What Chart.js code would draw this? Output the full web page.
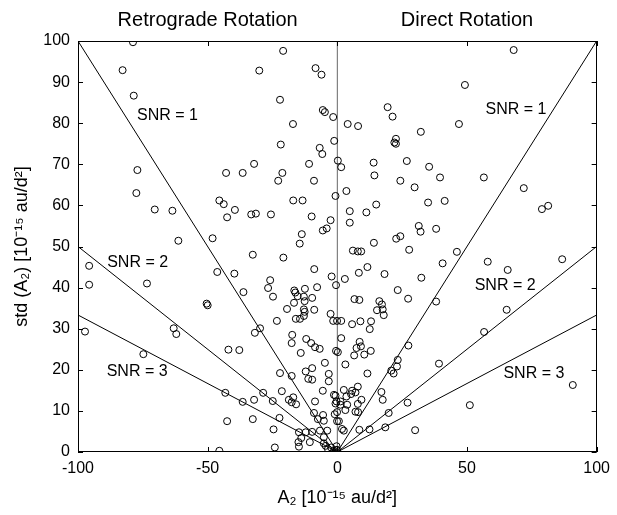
<!DOCTYPE html>
<html lang="en">
<head>
<meta charset="UTF-8">
<title>SNR of A2</title>
<script src="https://cdn.jsdelivr.net/npm/chart.js@4.4.1/dist/chart.umd.min.js"></script>
<style>
    html, body {margin: 0; padding: 0; background: #fff}
    canvas {display: block}
</style>
</head>
<body>
<canvas id="chart" width="617" height="515"></canvas>
<script>

// A2 values and their std (units of 1e-15 au/d^2)
const a2 = [
    -78.8, -82.8, -78.5, -77.1,
    -20.9, -30.1, -8.4, -6.1, -22.1, -5.6, -4.8, -1.6, -17.1, -21.8, -6.8, -5.8, -1.2, -32.1, -10.9, 0.2, -42.9, -36.5, -21.2, -22.8, -9.0,
    49.2, 19.4, 21.3, 4.0, 8.0, 46.9, 32.2, 22.6, 22.0, 22.6, 1.5, 14.0, 26.8, 35.4, 14.3, 39.6, 24.3,
    68.0, 56.5,
    -77.5, -70.4, -63.6, -61.3, -95.7, -95.7, -73.4, -50.4, -50.0,
    -45.5, -43.8, -39.5, -42.5, -33.2, -31.4, -25.6, -17.0, -13.4, -0.7, -9.9, -2.6, -5.6, -4.1, -13.7, -14.5, -48.1, -32.6, -20.8, -8.9,
    -46.3, -39.7, -2.2, -0.5, -25.9, -26.7, -36.2, -24.8, -16.6, -16.2, -12.5, -7.8, -15.3, -12.9, -12.6, -9.7, -16.7, -19.4, -12.9, -12.6, -8.9, -2.6,
    29.8, 3.5, 35.0, 41.4, 15.0, 4.8, 11.2, 4.8, 31.4, 32.1, 38.1, 22.7, 24.3, 14.1, 27.7, 6.0, 7.9, 9.2, 46.1, 40.6, 11.6, 8.3, 18.2, 32.4,
    2.9, 23.3, 27.3, 6.6, 8.5, 16.2, 17.2, 15.3, 17.5, 17.9, 38.1,
    71.9, 78.9, 81.3, 58.0, 65.7, 86.7, 65.3,
    -97.3, -63.1, -62.1, -74.8,
    -23.3, -16.0, -14.4, -12.9, -1.6, -29.8, -31.8, -17.4, -17.6, -42.0, -37.8, -12.0, -10.1, -8.6, -6.8, -14.1, -0.5, -4.8, -9.7, -12.2,
    -11.2, -9.7, -3.3, -3.3, -22.1, -17.6, -21.4, -43.2, -28.6, -36.5, -32.1, -24.9, -18.7, -17.0, -15.9, -17.6, -5.6, -1.3, -0.3, -8.6,
    -42.5, -32.6, -22.3, -24.6, -24.1, -45.5, -9.0, -7.5, -5.5, -5.2, -1.0, -0.1, -14.8, -12.2, -9.7, -6.7, -3.9, -13.9, -15.0, -14.8,
    -10.6, -5.2, -5.2, -4.5, -3.6, -2.4, -1.3, -0.3,
    -0.1, 1.5, 5.7, 8.9, 13.0, 12.5, 1.5, 0.2, 8.6, 7.4, 9.1, 12.9, 6.5, 10.4, 3.1, 11.6, 27.4, 23.3, 23.0, 20.8, 21.7, 39.2,
    17.0, 17.5, 27.1, 19.8, 18.5, 12.4, 30.0, 8.5, 1.8, 2.5, 0.6, 7.9, 2.5, 5.7, 7.0, 3.5, 5.3, -0.7, -0.7, 1.2, 1.2, 3.8,
    9.3, 7.9, 3.1, 7.0, 8.0, -0.1, -0.3, -0.1, 51.1,
    56.6, 90.8
];
const stdA2 = [
    99.7, 92.9, 86.7, 68.6,
    97.6, 92.8, 93.4, 91.8, 85.7, 83.2, 82.7, 81.5, 79.8, 74.8, 74.0, 72.5, 75.7, 70.1, 70.1, 70.9, 67.9, 67.9, 67.9, 66.0, 66.0,
    89.3, 83.9, 81.6, 79.8, 79.3, 79.8, 77.9, 76.2, 75.3, 75.0, 69.3, 70.4, 70.8, 69.4, 67.3, 66.8, 66.0,
    97.8, 66.8,
    63.0, 59.0, 58.7, 51.4, 45.3, 40.7, 41.0, 36.1, 35.7,
    61.2, 60.3, 58.9, 57.1, 57.8, 58.0, 57.8, 61.2, 61.2, 62.3, 57.3, 56.4, 53.9, 54.4, 53.0, 50.7, 52.0, 48.0, 47.3, 44.5,
    43.8, 43.4, 42.7, 40.6, 41.8, 39.9, 38.9, 37.8, 39.3, 38.8, 39.7, 40.1, 37.9, 37.8, 36.7, 37.5, 36.3, 34.8, 34.7, 34.1, 34.6, 33.6,
    64.4, 63.5, 60.7, 61.1, 60.2, 58.6, 58.3, 55.8, 55.0, 53.6, 54.3, 51.9, 52.5, 50.9, 49.2, 49.0, 48.8, 48.8, 48.7, 45.9, 45.0, 43.6, 43.3, 42.4,
    42.1, 39.4, 37.3, 37.2, 37.0, 36.7, 35.9, 34.5, 34.7, 33.3, 36.6,
    64.2, 59.1, 59.9, 46.3, 44.3, 46.9, 34.6,
    29.3, 30.1, 28.7, 23.8,
    31.9, 32.4, 32.4, 33.1, 31.9, 30.1, 29.0, 28.5, 26.5, 24.9, 24.8, 27.5, 26.5, 25.5, 25.1, 24.1, 24.6, 21.7, 20.4, 19.6,
    17.8, 17.6, 19.0, 17.2, 19.2, 18.5, 14.8, 14.4, 14.4, 12.2, 12.7, 12.4, 12.7, 13.3, 11.6, 12.1, 14.9, 13.9, 12.3, 12.3,
    7.5, 8.0, 8.3, 5.5, 1.1, 0.3, 9.5, 8.0, 9.0, 7.6, 9.2, 7.5, 4.8, 4.8, 4.9, 5.2, 5.2, 3.4, 2.4, 1.3,
    2.4, 3.6, 2.1, 1.5, 0.7, 1.1, 0.3, 0.5,
    31.9, 31.9, 31.1, 31.8, 31.8, 29.9, 27.7, 24.3, 26.8, 25.3, 25.7, 24.6, 23.5, 23.7, 21.3, 19.1, 25.9, 22.4, 20.8, 19.8, 19.1, 21.5,
    14.6, 12.7, 12.0, 9.5, 6.0, 5.5, 5.3, 5.4, 5.6, 5.2, 7.5, 15.9, 15.1, 14.9, 14.5, 13.5, 14.1, 13.7, 11.8, 12.3, 11.5, 11.5,
    12.7, 11.7, 10.2, 9.8, 9.7, 9.7, 1.4, 0.5, 11.4,
    29.2, 16.3
];

const snrLevels = [1, 2, 3];
const xTicks = [-100, -50, 0, 50, 100];
const yTicks = [0, 10, 20, 30, 40, 50, 60, 70, 80, 90, 100];
const xRange = [-100, 100];
const yRange = [0, 100];

// where the SNR = n labels sit, in data units
const snrLabels = [
    {text: 'SNR = 1', x: -65.5, y: 81.8}, {text: 'SNR = 1', x: 68.9, y: 83.2},
    {text: 'SNR = 2', x: -77.0, y: 46.2}, {text: 'SNR = 2', x: 64.7, y: 40.4},
    {text: 'SNR = 3', x: -77.2, y: 19.6}, {text: 'SNR = 3', x: 75.8, y: 19.0}
];
const sideTitles = [{text: 'Retrograde Rotation', x: -50}, {text: 'Direct Rotation', x: 50}];

const FONT = "'Liberation Sans', Arial, Helvetica, sans-serif";

const points = a2.map((v, i) => ({x: v, y: stdA2[i]}));

// SNR = |A2| / std  ->  std = |A2| / snr
const snrSets = snrLevels.map(s => ({
    type: 'line',
    data: [{x: xRange[0], y: Math.abs(xRange[0]) / s}, {x: 0, y: 0}, {x: xRange[1], y: xRange[1] / s}],
    borderColor: '#000',
    borderWidth: 1,
    pointRadius: 0,
    fill: false,
    tension: 0,
    order: 2
}));

const matlabLook = {
    id: 'matlabLook',
    afterDraw(chart) {
        const {ctx, chartArea: a, scales: {x, y}} = chart;
        ctx.save();
        ctx.strokeStyle = '#000';
        ctx.lineWidth = 1;
        ctx.strokeRect(Math.round(a.left) + 0.5, Math.round(a.top) + 0.5,
            Math.round(a.right - a.left) - 1, Math.round(a.bottom - a.top) - 1);
        const tl = 5;
        ctx.beginPath();
        xTicks.forEach(t => {
            const px = Math.round(x.getPixelForValue(t)) + 0.5;
            ctx.moveTo(px, a.bottom); ctx.lineTo(px, a.bottom - tl);
            ctx.moveTo(px, a.top); ctx.lineTo(px, a.top + tl);
        });
        yTicks.forEach(t => {
            const py = Math.round(y.getPixelForValue(t)) + 0.5;
            ctx.moveTo(a.left, py); ctx.lineTo(a.left + tl, py);
            ctx.moveTo(a.right, py); ctx.lineTo(a.right - tl, py);
        });
        ctx.stroke();

        ctx.fillStyle = '#000';
        ctx.textAlign = 'center';
        ctx.textBaseline = 'middle';
        ctx.font = '16px ' + FONT;
        snrLabels.forEach(l => ctx.fillText(l.text, x.getPixelForValue(l.x), y.getPixelForValue(l.y)));
        ctx.font = '20px ' + FONT;
        sideTitles.forEach(l => ctx.fillText(l.text, x.getPixelForValue(l.x), a.top - 21));
        ctx.restore();
    }
};

new Chart('chart', {
    type: 'scatter',
    data: {
        datasets: [
            {
                data: points,
                borderColor: '#000',
                backgroundColor: 'rgba(0,0,0,0)',
                borderWidth: 1,
                pointRadius: 3.5,
                pointStyle: 'circle',
                order: 1
            },
            ...snrSets,
            {
                type: 'line',
                data: [{x: 0, y: yRange[0]}, {x: 0, y: yRange[1]}],
                borderColor: '#666',
                borderWidth: 1,
                pointRadius: 0,
                order: 3
            }
        ]
    },
    options: {
        responsive: false,
        animation: false,
        devicePixelRatio: 1,
        layout: {padding: {top: 41, right: 18, left: 0, bottom: 0}},
        plugins: {legend: {display: false}, tooltip: {enabled: false}},
        scales: {
            x: {
                type: 'linear',
                min: xRange[0],
                max: xRange[1],
                afterBuildTicks: s => { s.ticks = xTicks.map(v => ({value: v})); },
                afterFit: s => { s.height = 63; },
                grid: {display: false, drawTicks: false},
                border: {display: false},
                ticks: {color: '#000', font: {family: FONT, size: 16}, padding: 7, maxRotation: 0},
                title: {
                    display: true,
                    text: 'A\u2082 [10\u207B\u00B9\u2075 au/d\u00B2]',
                    color: '#000',
                    font: {family: FONT, size: 18},
                    padding: {top: 0, bottom: 6}
                }
            },
            y: {
                type: 'linear',
                min: yRange[0],
                max: yRange[1],
                afterBuildTicks: s => { s.ticks = yTicks.map(v => ({value: v})); },
                afterFit: s => { s.width = 78; },
                grid: {display: false, drawTicks: false},
                border: {display: false},
                ticks: {color: '#000', font: {family: FONT, size: 16}, padding: 8},
                title: {
                    display: true,
                    text: 'std (A\u2082) [10\u207B\u00B9\u2075 au/d\u00B2]',
                    color: '#000',
                    font: {family: FONT, size: 18},
                    padding: {top: 11, bottom: 0}
                }
            }
        }
    },
    plugins: [matlabLook]
});

</script>
</body>
</html>
